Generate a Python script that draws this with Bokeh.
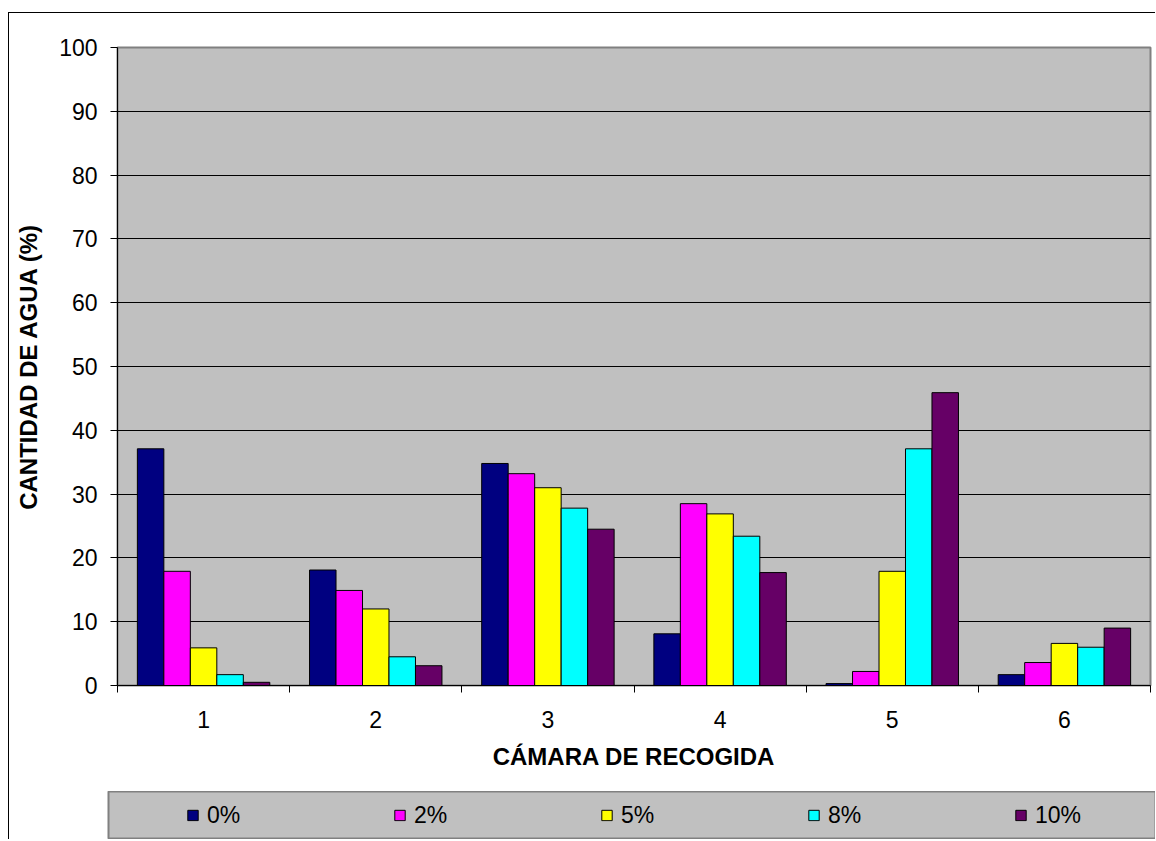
import numpy as np
from bokeh.plotting import figure
from bokeh.models import (ColumnDataSource, Range1d, FixedTicker, Legend,
                          LegendItem)
from bokeh.embed import file_html
from bokeh.resources import INLINE

# ---------------- data ----------------
cameras = ["1", "2", "3", "4", "5", "6"]
series_names = ["0%", "2%", "5%", "8%", "10%"]
v0 = [37.1, 18.1, 34.8, 8.1, 0.3, 1.7]
v2 = [17.9, 14.9, 33.2, 28.5, 2.2, 3.6]
v5 = [5.9, 12.0, 31.0, 26.9, 17.9, 6.6]
v8 = [1.7, 4.5, 27.8, 23.4, 37.1, 6.0]
v10 = [0.5, 3.1, 24.5, 17.7, 45.9, 9.0]
y_ticks = [0, 10, 20, 30, 40, 50, 60, 70, 80, 90, 100]

series_values = [v0, v2, v5, v8, v10]
colors = ["#000080", "#FF00FF", "#FFFF00", "#00FFFF", "#660066"]

FONT = "Liberation Sans"
GRAY = "#C0C0C0"

p = figure(width=1147, height=779, output_backend="svg", toolbar_location=None,
           x_range=Range1d(0.5, len(cameras) + 0.5), y_range=Range1d(0, 100),
           min_border_left=108, min_border_right=6, min_border_top=34,
           min_border_bottom=107)
p.styles = {"margin-left": "8px", "margin-top": "12px",
            "border-left": "1px solid black", "border-top": "1px solid black"}
p.background_fill_color = GRAY
p.border_fill_color = "white"
p.outline_line_color = "#808080"
p.outline_line_width = 2

# bars
n = len(series_names)
w = 1 / 6.5
xs_base = np.arange(1, len(cameras) + 1)
sources = []
for j, (name, vals, col) in enumerate(zip(series_names, series_values, colors)):
    src = ColumnDataSource(dict(x=xs_base + (j - (n - 1) / 2) * w, top=vals, cam=cameras))
    sources.append(src)
    p.vbar(x="x", top="top", bottom=0, width=w, source=src,
           fill_color=col, line_color="black", line_width=1)

# axes
p.xgrid.visible = False
p.ygrid.ticker = FixedTicker(ticks=y_ticks)
p.ygrid.grid_line_color = "black"
p.ygrid.grid_line_width = 1

p.yaxis.ticker = FixedTicker(ticks=y_ticks)
p.yaxis.axis_line_color = "black"
p.yaxis.major_tick_out = 7
p.yaxis.major_tick_in = 0
p.yaxis.minor_tick_line_color = None
p.yaxis.major_label_standoff = 13
p.yaxis.major_label_text_font = FONT
p.yaxis.major_label_text_font_size = "23px"
p.yaxis.major_label_text_color = "black"
p.yaxis.axis_label = "CANTIDAD DE AGUA (%)"
p.yaxis.axis_label_text_font = FONT
p.yaxis.axis_label_text_font_size = "24px"
p.yaxis.axis_label_text_font_style = "bold"
p.yaxis.axis_label_text_color = "black"
p.yaxis.axis_label_standoff = 14

cat_pos = [i + 1 for i in range(len(cameras))]
bounds = [i + 0.5 for i in range(len(cameras) + 1)]
p.xaxis.ticker = FixedTicker(ticks=cat_pos, minor_ticks=bounds)
p.xaxis.major_label_overrides = {c: lab for c, lab in zip(cat_pos, cameras)}
p.xaxis.axis_line_color = "black"
p.xaxis.major_tick_line_color = None
p.xaxis.major_tick_out = 0
p.xaxis.major_tick_in = 0
p.xaxis.minor_tick_line_color = "black"
p.xaxis.minor_tick_out = 7
p.xaxis.minor_tick_in = 0
p.xaxis.major_label_standoff = 18
p.xaxis.major_label_text_font = FONT
p.xaxis.major_label_text_font_size = "23px"
p.xaxis.major_label_text_color = "black"
p.xaxis.axis_label = "CÁMARA DE RECOGIDA"
p.xaxis.axis_label_text_font = FONT
p.xaxis.axis_label_text_font_size = "24px"
p.xaxis.axis_label_text_font_style = "bold"
p.xaxis.axis_label_text_color = "black"
p.xaxis.axis_label_standoff = 12

# legend strip: separate figure whose frame is the grey legend box;
# its bar renderers share the sources but are hidden (legend shows them unmuted)
pl = figure(width=1147, height=48, output_backend="svg", toolbar_location=None,
            x_range=Range1d(0.5, len(cameras) + 0.5), y_range=Range1d(0, 100),
            x_axis_type=None, y_axis_type=None,
            min_border_left=99, min_border_right=0, min_border_top=0,
            min_border_bottom=0)
pl.styles = {"margin-left": "8px", "border-left": "1px solid black"}
pl.grid.visible = False
pl.background_fill_color = GRAY
pl.border_fill_color = "white"
pl.outline_line_color = "#808080"
pl.outline_line_width = 2
items = []
for name, col, src in zip(series_names, colors, sources):
    r = pl.vbar(x="x", top="top", bottom=0, width=w, source=src,
                fill_color=col, line_color="black", line_width=1, visible=False)
    items.append(LegendItem(label=name, renderers=[r]))

legend = Legend(items=items, orientation="horizontal", location="left",
                padding=0, spacing=86, margin=78, label_width=100,
                glyph_width=13, glyph_height=13, label_standoff=8,
                border_line_color=None, background_fill_alpha=0,
                inactive_fill_alpha=0,
                label_text_font=FONT, label_text_font_size="23px",
                label_text_color="black")
pl.add_layout(legend)

open("out.html", "w").write(file_html([p, pl], INLINE))
